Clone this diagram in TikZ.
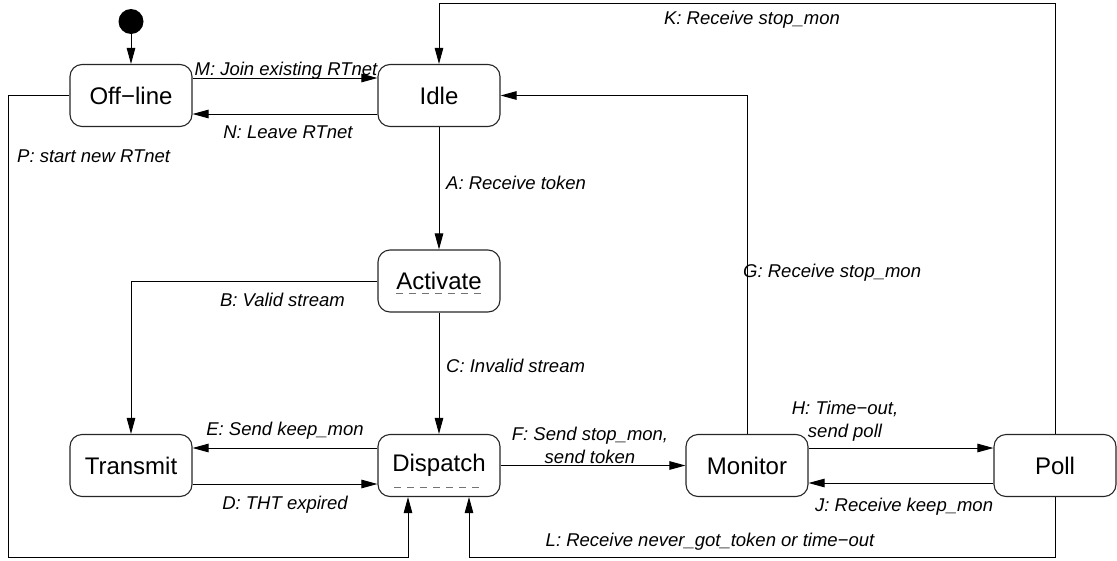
\documentclass[tikz,border=0pt]{standalone}
\usepackage{fontspec}
\setmainfont{Liberation Sans}
\usetikzlibrary{arrows.meta,calc}
\begin{document}
\begin{tikzpicture}[x=1pt,y=-1pt,
  statebox/.style={draw=black!85, line width=1.1pt, rounded corners=12pt, minimum width=122pt, minimum height=62pt, inner sep=0pt, font=\fontsize{24}{28}\selectfont},
  conn/.style={draw=black, line width=1pt, -{Triangle[length=16pt,width=8.5pt]}},
  lbl/.style={font=\fontsize{18.5}{23}\selectfont\itshape, inner sep=0pt, align=center},
  uline/.style={draw=black!55, line width=1pt, dash pattern=on 6.5pt off 6.5pt}
]
\useasboundingbox (0,0) rectangle (1117,560);
% states
\node[circle, fill=black, minimum size=25pt, inner sep=0pt] (init) at (131,21.5) {};
\node[statebox] (off) at (131,95.5) {Off−line};
\node[statebox] (idle) at (439,95.5) {Idle};
\node[statebox] (act) at (439,281) {Activate};
\node[statebox] (trans) at (131,465.5) {Transmit};
\node[statebox] (disp) at (439,465.5) {Dispatch};
\node[statebox] (mon) at (747,465.5) {Monitor};
\node[statebox] (poll) at (1055,465.5) {Poll};
% dashed underlines (do-activity marks)
\draw[uline] ($(act)+(-43,12)$) -- ($(act)+(43,12)$);
\draw[uline] ($(disp)+(-45,21.5)$) -- ($(disp)+(45,21.5)$);
% helper coordinates
\coordinate (ktop) at (0,3.5);
\coordinate (pleft) at (8,0);
\coordinate (bot) at (0,557);
% connectors
\draw[conn] (init) -- (off.north);
\draw[conn] ($(off.east)+(0,-17.5)$) -- ($(idle.west)+(0,-17.5)$);
\draw[conn] ($(idle.west)+(0,18.5)$) -- ($(off.east)+(0,18.5)$);
\draw[conn] (idle.south) -- (act.north);
\draw[conn] (act.south) -- (disp.north);
\draw[conn] (act.west) -| (trans.north);
\draw[conn] ($(disp.west)+(0,-17.5)$) -- ($(trans.east)+(0,-17.5)$);
\draw[conn] ($(trans.east)+(0,18.5)$) -- ($(disp.west)+(0,18.5)$);
\draw[conn] (disp.east) -- (mon.west);
\draw[conn] ($(mon.east)+(0,-17.5)$) -- ($(poll.west)+(0,-17.5)$);
\draw[conn] ($(poll.west)+(0,17.5)$) -- ($(mon.east)+(0,17.5)$);
\draw[conn] (mon.north) |- (idle.east);
\draw[conn] (poll.north) -- (poll.north |- ktop) -| (idle.north);
\draw[conn] (poll.south) -- (poll.south |- bot) -| ($(disp.south)+(30,0)$);
\draw[conn] (off.west) -- (off.west -| pleft) -- (pleft |- bot) -| ($(disp.south)+(-31,0)$);
% labels
\node[lbl, anchor=base] (lM) at (286,75) {M: Join existing RTnet};
\node[lbl, anchor=base] (lN) at (288,138) {N: Leave RTnet};
\node[lbl, anchor=base west] (lP) at (17,162.5) {P: start new RTnet};
\node[lbl, anchor=base west] (lA) at (446,189.5) {A: Receive token};
\node[lbl, anchor=base east] (lB) at (345,306.5) {B: Valid stream};
\node[lbl, anchor=base west] (lC) at (446,372.5) {C: Invalid stream};
\node[lbl, anchor=base west] (lG) at (743,277.5) {G: Receive stop\_mon};
\node[lbl, anchor=base] (lK) at (752,24) {K: Receive stop\_mon};
\node[lbl, anchor=base] (lE) at (285,435) {E: Send keep\_mon};
\node[lbl, anchor=base] (lD) at (285,509) {D: THT expired};
\node[lbl] (lF) at (590,445) {F: Send stop\_mon,\\send token};
\node[lbl] (lH) at (845,421) {H: Time−out,\\send poll};
\node[lbl, anchor=base west] (lJ) at (815,511) {J: Receive keep\_mon};
\node[lbl, anchor=base] (lL) at (710,546.5) {L: Receive never\_got\_token or time−out};
\end{tikzpicture}
\end{document}
